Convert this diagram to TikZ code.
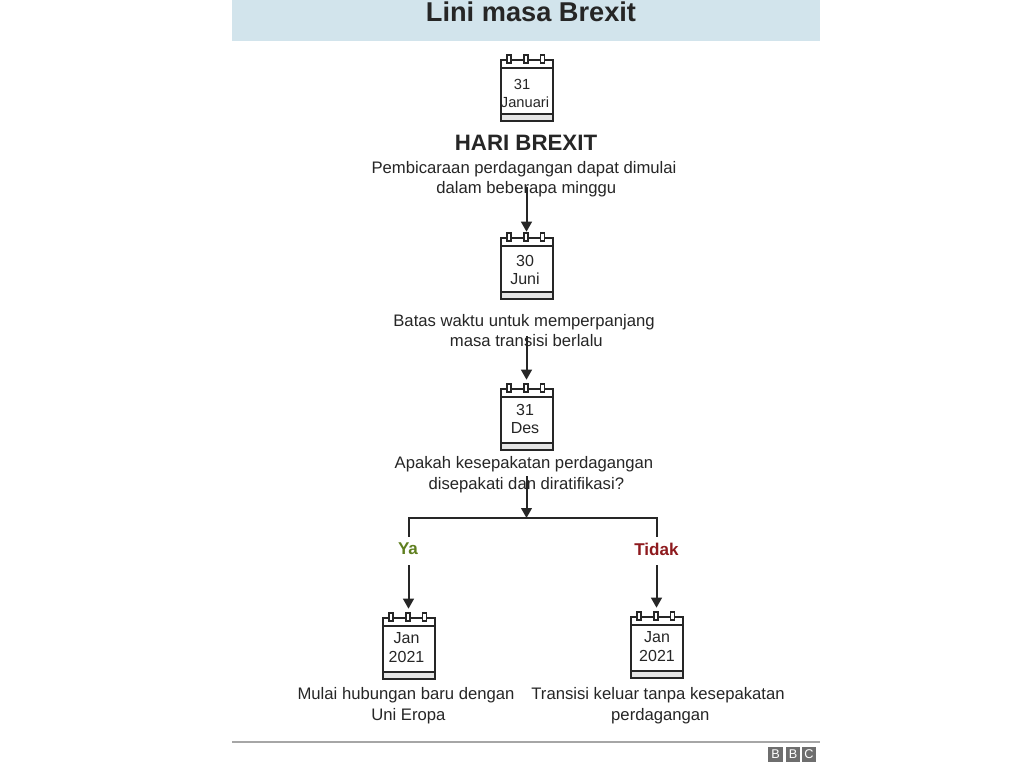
\documentclass[tikz,border=0pt]{standalone}
\usepackage{fontspec}
\setmainfont{Liberation Sans}
\usetikzlibrary{arrows.meta}
\definecolor{headcolor}{HTML}{D2E4EC}
\definecolor{inkcolor}{HTML}{262626}
\definecolor{yacolor}{HTML}{5F7F1F}
\definecolor{tidakcolor}{HTML}{8E1A1E}
\definecolor{logocolor}{HTML}{6E6E6E}
\tikzset{
  calnode/.style={minimum width=39.75pt,minimum height=49.5pt,inner sep=0pt},
  calline/.style={draw=inkcolor,line width=1.5pt},
  link/.style={draw=inkcolor,line width=1.5pt},
  arrow/.style={link,-{Triangle[length=7.5pt,width=8pt]}},
  calarrow/.style={arrow,shorten >=3pt},
  body/.style={align=center,text=inkcolor,font=\fontsize{12.5}{15.3}\selectfont},
  date/.style={align=center,text=inkcolor,font=\fontsize{12}{14}\selectfont},
  small date/.style={date,font=\fontsize{11}{14}\selectfont},
  branch/.style={font=\fontsize{12.8}{14}\selectfont\bfseries,minimum height=21pt,inner sep=0pt},
  logo/.style={fill=logocolor,text=white,minimum size=11pt,inner sep=0pt,font=\fontsize{9.5}{9.5}\selectfont}
}
\newcommand{\calicon}[3]{
\begin{scope}[shift={(#2,#3)}]
\node[calnode] (#1) at (0,0) {};
\fill[black!10] (-26,26) rectangle (26,33);
\draw[calline] (-26,-20) rectangle (26,33);
\draw[calline] (-26,-20) -- (-26,-28) -- (26,-28) -- (26,-20);
\draw[calline] (-26,26) -- (26,26);
\foreach \ringx in {-17.5,-0.5,16} {
\draw[calline,fill=white,line width=0.8pt] (\ringx-2,-33) rectangle (\ringx+2,-25);
}
\end{scope}
}
\begin{document}
\begin{tikzpicture}[x=0.75pt,y=-0.75pt]
\useasboundingbox (0,0) rectangle (1024,768);
\fill[white] (0,0) rectangle (1024,768);
%header
\fill[headcolor] (232,0) rectangle (820,41);
\node[text=inkcolor,font=\fontsize{20.4}{24}\selectfont\bfseries] (title) at (531,12) {Lini masa Brexit};
%calendars
\calicon{cal1}{526.5}{88}
\calicon{cal2}{526.5}{266}
\calicon{cal3}{526.5}{417}
\calicon{cal4}{408.5}{646}
\calicon{cal5}{656.5}{645}
\node[small date] (date1a) at (522,84) {31};
\node[small date] (date1b) at (525,102) {Januari};
\node[date] (date2) at (525,270) {30\\Juni};
\node[date] (date3) at (525,419) {31\\Des};
\node[date] (date4) at (406.5,647.5) {Jan\\2021};
\node[date] (date5) at (657,646.5) {Jan\\2021};
%texts
\node[text=inkcolor,font=\fontsize{16.7}{20}\selectfont\bfseries] (hari) at (526,143) {HARI BREXIT};
\node[body] (text1) at (524,179) {Pembicaraan perdagangan dapat dimulai\\\hspace*{3.5pt}dalam beberapa minggu};
\node[body] (text2) at (524,330.5) {Batas waktu untuk memperpanjang\\\hspace*{3.5pt}masa transisi berlalu};
\node[body] (text3) at (524,474.5) {Apakah kesepakatan perdagangan\\\hspace*{3.5pt}disepakati dan diratifikasi?};
\node[body] (text4) at (406,705.5) {Mulai hubungan baru dengan\\\hspace*{3.5pt}Uni Eropa};
\node[body] (text5) at (658,705.5) {Transisi keluar tanpa kesepakatan\\\hspace*{3.5pt}perdagangan};
\node[branch] (ya) at (408.5,551) {};
\node[branch] (tidak) at (656.5,551) {};
\node[branch,text=yacolor] (yatext) at (408,549) {Ya};
\node[branch,text=tidakcolor] (tidaktext) at (656.5,549) {Tidak};
%arrows
\coordinate (start1) at (526.5,187);
\coordinate (start2) at (526.5,336);
\coordinate (start3) at (526.5,476);
\coordinate (split) at (526.5,518);
\draw[calarrow,shorten >=0.75pt] (start1) -- (cal2.north);
\draw[calarrow] (start2) -- (cal3.north);
\draw[arrow] (start3) -- (split);
\draw[link] (ya.north) |- (split) -| (tidak.north);
\draw[calarrow] (ya.south) -- (cal4.north);
\draw[calarrow] (tidak.south) -- (cal5.north);
%footer
\coordinate (footl) at (232,742);
\coordinate (footr) at (820,742);
\draw[black!35,line width=1pt] (footl) -- (footr);
\node[logo] (bbc1) at (775.5,754.5) {B};
\node[logo] (bbc2) at (793,754.5) {B};
\node[logo] (bbc3) at (809,754.5) {C};
\end{tikzpicture}
\end{document}
